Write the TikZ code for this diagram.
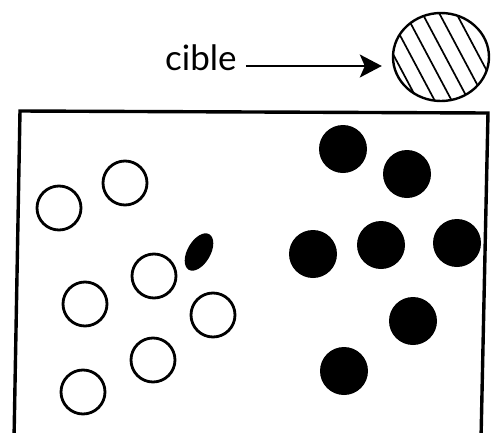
\documentclass[tikz,border=0pt]{standalone}
\usepackage{fontspec}
\setmainfont{Lato}
\usetikzlibrary{positioning,arrows.meta,calc,shapes.geometric}

\begin{document}
\begin{tikzpicture}[
            x=1pt, y=-1pt,
            every node/.style={inner sep=0pt, font=\fontsize{35}{40}\selectfont},
            blanche/.style={circle, draw, line width=2.8pt, minimum size=44pt},
            noire/.style={circle, fill=black, minimum size=48pt},
            tache/.style={ellipse, fill=black, minimum width=23pt, minimum height=41pt, rotate=-30},
            hachure/.style={ellipse, draw, line width=2.4pt, minimum width=96pt, minimum height=88pt,
                path picture={
                    \foreach \k in {-4,...,4}
                        \draw[line width=1.7pt]
                            ($(path picture bounding box.center)+(28:\k*15pt+4pt)+(118:70pt)$) --
                            ($(path picture bounding box.center)+(28:\k*15pt+4pt)+(-62:70pt)$);
                }},
            boite/.style={line width=3.4pt, line join=miter},
            arrow/.style={-{Stealth[length=22pt, width=23pt, inset=5pt]}, line width=1.8pt}
        ]
            \useasboundingbox (0,0) rectangle (491,432);

            % Target and label
            \node[hachure] (cible) at (441,57) {};
            \node[anchor=base west] (texte) at (165,70) {cible};
            \coordinate (depart) at ([xshift=9pt, yshift=4pt]texte.base east);
            \draw[arrow, shorten >=10pt] (depart) -- (depart -| cible.west);

            % Box
            \draw[boite] (14,440) -- (20,111) -- (488,113) -- (481,440);

            % Open circles
            \node[blanche] (b1) at (59,208) {};
            \node[blanche] (b2) at (125,183) {};
            \node[blanche] (b3) at (154,276) {};
            \node[blanche] (b4) at (85,304) {};
            \node[blanche] (b5) at (213,315) {};
            \node[blanche] (b6) at (153,360) {};
            \node[blanche] (b7) at (83,392) {};

            % Small blot
            \node[tache] (t) at (199,252) {};

            % Filled circles
            \node[noire] (n1) at (343,149) {};
            \node[noire] (n2) at (407,174) {};
            \node[noire] (n3) at (313,254) {};
            \node[noire] (n4) at (381,245) {};
            \node[noire] (n5) at (457,243) {};
            \node[noire] (n6) at (413,321) {};
            \node[noire] (n7) at (344,371) {};

        \end{tikzpicture}
\end{document}
